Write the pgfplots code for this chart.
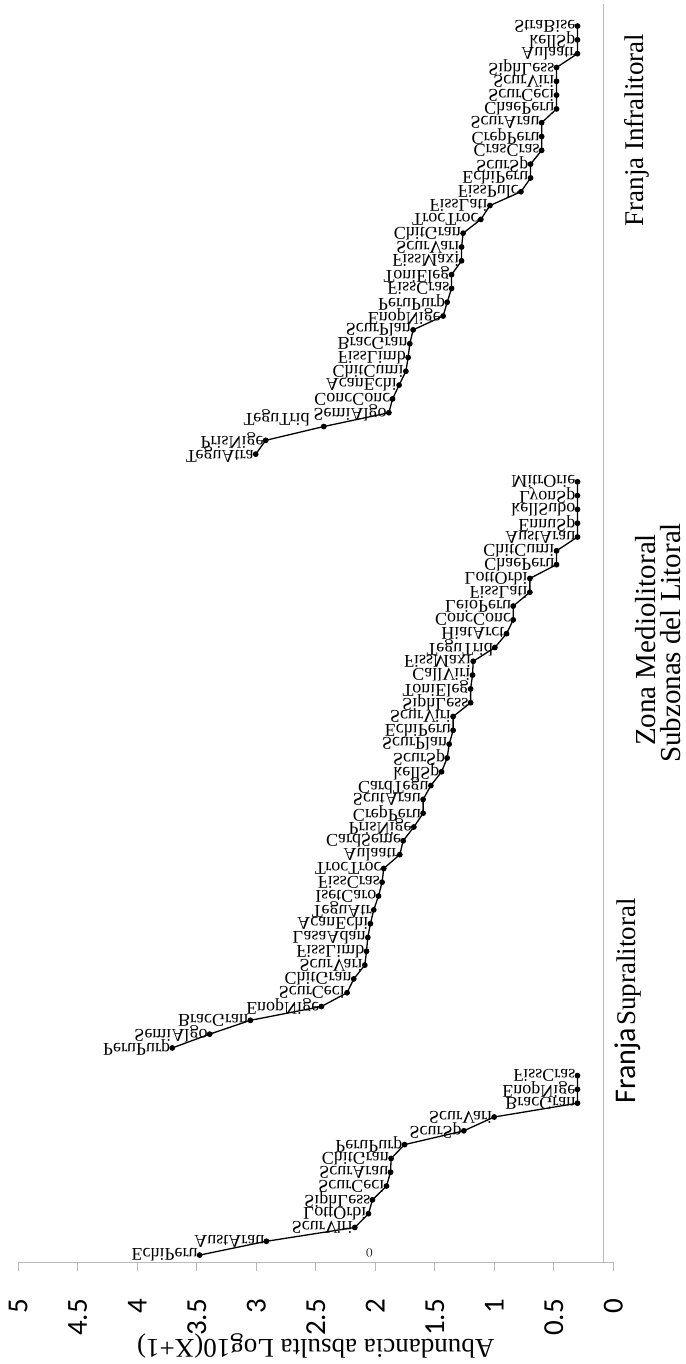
\documentclass[border=0pt]{standalone}
\usepackage{fontspec}
\setmainfont{Liberation Serif}
\newfontfamily\carlito{Carlito}
\usepackage{pgfplots}
\usepackage{pgfplotstable}
\pgfplotsset{compat=1.18}

% i = position along the (rotated) species axis, v = Log10(X+1)
\pgfplotstableread{
i v lab
0 3.476 EchiPeru
1 2.915 AustArau
2 2.172 ScurViri
3 2.057 LottOrbi
4 2.024 SiphLess
5 1.906 ScurCeci
6 1.872 ScurArau
7 1.867 ChitGran
8 1.754 PeruPurp
9 1.256 ScurSp
10 1.001 ScurVari
11 0.301 BracGran
12 0.301 EnopNige
13 0.301 FissCras
}\supra

\pgfplotstableread{
i v lab
15 3.706 PeruPurp
16 3.392 SemiAlgo
17 3.050 BracGran
18 2.453 EnopNige
19 2.237 ScurCeci
20 2.181 ChitGran
21 2.088 ScurVari
22 2.074 FissLimb
23 2.063 LasaAdan
24 2.041 AcanEchi
25 2.013 TeguAtr
26 1.973 IsetCaro
27 1.943 FissCras
28 1.929 TrocTroc
29 1.794 Aulaatr
30 1.766 CardSeme
31 1.676 PrisNige
32 1.598 CrepPeru
33 1.598 ScutArau
34 1.533 CardTegu
35 1.443 kellSp
36 1.396 ScurSp
37 1.379 ScurPlan
38 1.346 EchiPeru
39 1.346 ScurViri
40 1.199 SiphLess
41 1.199 ToniEleg
42 1.183 CallViri
43 1.177 FissMaxi
44 0.995 TeguTrid
45 0.897 HiatArct
46 0.841 ConcConc
47 0.841 LeioPeru
48 0.701 FissLati
49 0.701 LottOrbi
50 0.477 ChaePeru
51 0.477 ChitCumi
52 0.301 AustArau
53 0.301 EnnuSp
54 0.301 kellSubo
55 0.301 LyonSp
56 0.301 MitrOrie
}\medio

\pgfplotstableread{
i v lab
58 3.005 TeguAtra
59 2.921 PrisNige
60 2.433 {\raisebox{-7pt}[12pt][0pt]{TeguTrid}\hspace*{12pt}}
61 1.886 SemiAlgo
62 1.855 ConcConc
63 1.800 AcanEchi
64 1.743 ChitCumi
65 1.724 FissLimb
66 1.710 BracGran
67 1.682 ScurPlan
68 1.430 EnopNige
69 1.396 PeruPurp
70 1.359 FissCras
71 1.359 ToniEleg
72 1.275 FissMaxi
73 1.275 ScurVari
74 1.262 ChitGran
75 1.113 TrocTroc
76 1.037 FissLati
77 0.776 FissPulc
78 0.695 EchiPeru
79 0.695 ScurSp
80 0.602 CrasCras
81 0.602 CrepPeru
82 0.602 ScurArau
83 0.477 ChaePeru
84 0.477 ScurCeci
85 0.477 ScurViri
86 0.477 SiphLess
87 0.301 Aulaatr
88 0.301 kellSp
89 0.301 StraBise
}\infra

\begin{document}
\begin{tikzpicture}
\begin{axis}[
    at={(18.3pt,102pt)}, anchor=south west,
    scale only axis,
    width=595pt, height=1258pt,
    x dir=reverse,
    xmin=0, xmax=5,
    ymin=-0.5, ymax=90.6,
    xtick={0,0.5,...,5},
    ytick=\empty,
    axis x line*=bottom,
    axis y line=none,
    axis line style={gray!55, line width=0.9pt},
    tick style={gray!55, line width=0.9pt},
    tick align=outside,
    major tick length=9pt,
    /pgf/number format/assume math mode=true,
    tick label style={font=\carlito\fontsize{29}{29}\selectfont},
    xticklabel style={rotate=90, anchor=east, inner sep=0pt},
    xticklabel shift=28pt,
    xlabel={Abundancia absulta Log10(X+1)},
    xlabel style={at={(axis description cs:0.5,-0.067)}, anchor=center,
        rotate=180, font=\fontsize{27}{27}\selectfont},
    clip=false,
    every node near coord/.append style={font=\fontsize{18}{18}\selectfont,
        anchor=east, yscale=-1, inner sep=1.5pt, text=black},
]
\draw[gray!55, line width=0.9pt] (axis cs:0.084,-0.5) -- (axis cs:0.084,90.6);

\addplot[black, line width=1.3pt, mark=*, mark size=2.2pt,
    nodes near coords, point meta=explicit symbolic]
    table[x=v, y=i, meta=lab] {\supra};
\addplot[black, line width=1.3pt, mark=*, mark size=2.2pt,
    nodes near coords, point meta=explicit symbolic]
    table[x=v, y=i, meta=lab] {\medio};
\addplot[black, line width=1.3pt, mark=*, mark size=2.2pt,
    nodes near coords, point meta=explicit symbolic]
    table[x=v, y=i, meta=lab] {\infra};

\node[font=\fontsize{10}{10}\selectfont, yscale=-1] at (axis cs:2.05,0.17) {()};
\end{axis}

% zone labels
\node[rotate=90] at (628pt,363pt)
    {{\carlito\fontsize{30}{30}\selectfont Franja} {\fontsize{27}{27}\selectfont Supralitoral}};
\node[rotate=90, font=\fontsize{29}{29}\selectfont] at (646pt,724pt) {Zona Mediolitoral};
\node[rotate=90, font=\fontsize{29}{29}\selectfont] at (671pt,721pt) {Subzonas del Litoral};
\node[rotate=90, font=\fontsize{27}{27}\selectfont] at (637pt,1234pt) {Franja Infralitoral};

\pgfresetboundingbox
\path (0pt,0pt) rectangle (685pt,1364pt);
\end{tikzpicture}
\end{document}
